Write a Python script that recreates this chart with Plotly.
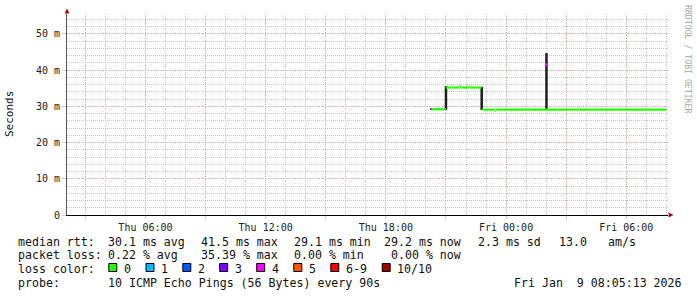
import plotly.graph_objects as go

# ---------------- data ----------------
x_start = "2026-01-08 02:05"
x_end = "2026-01-09 08:05"

# median RTT (ms), step line
med_time = ["2026-01-08 20:16", "2026-01-08 21:00", "2026-01-08 21:17", "2026-01-08 21:20",
            "2026-01-08 21:40", "2026-01-08 21:46", "2026-01-08 22:08", "2026-01-08 22:11",
            "2026-01-08 22:47", "2026-01-08 23:26", "2026-01-08 23:29", "2026-01-09 03:38",
            "2026-01-09 03:41", "2026-01-09 08:01"]
med_val = [29.2, 35.2, 35.5, 35.2, 35.5, 35.2, 35.5, 35.2, 29.1, 28.8, 29.1, 29.4, 29.1, 29.2]

# smoke (min/max spread) columns
smoke_time = ["2026-01-08 20:16", "2026-01-08 21:00", "2026-01-08 22:47", "2026-01-09 02:01"]
smoke_lo = [29.0, 29.0, 29.0, 29.2]
smoke_hi = [29.5, 35.6, 35.4, 44.7]

# sample with packet loss
loss_time = ["2026-01-09 02:01"]
loss_val = [41.5]

y_ticks = [0, 10, 20, 30, 40, 50]
y_ticktext = ["0", "10 m", "20 m", "30 m", "40 m", "50 m"]

x_ticks = ["2026-01-08 03:00", "2026-01-08 06:00", "2026-01-08 09:00", "2026-01-08 12:00",
           "2026-01-08 15:00", "2026-01-08 18:00", "2026-01-08 21:00", "2026-01-09 00:00",
           "2026-01-09 03:00", "2026-01-09 06:00"]
x_ticktext = ["", "Thu 06:00", "", "Thu 12:00", "", "Thu 18:00", "", "Fri 00:00", "", "Fri 06:00"]

loss_labels = ["0", "1", "2", "3", "4", "5", "6-9", "10/10"]
loss_colors = ["#26ff00", "#00b8ff", "#0059ff", "#7e00ff", "#ff00ff", "#ff5500", "#ff0000", "#a10000"]

rtt_stats = ["30.1 ms avg", "41.5 ms max", "29.1 ms min", "29.2 ms now", "2.3 ms sd", "13.0", "am/s"]
loss_stats = ["0.22 % avg", "35.39 % max", "0.00 % min", "0.00 % now"]
probe_text = "10 ICMP Echo Pings (56 Bytes) every 90s"
stamp_text = "Fri Jan\u00a0\u00a09 08:05:13 2026"

# ---------------- layout helpers ----------------
L, R, T, B = 67, 668, 14, 215
W, H = 697, 297


def px(x):
    return (x - L) / (R - L)


def py(y):
    return (B - y) / (B - T)


MONO = "DejaVu Sans Mono"

fig = go.Figure()

# smoke
sx, sy = [], []
for t, lo, hi in zip(smoke_time, smoke_lo, smoke_hi):
    sx += [t, t, None]
    sy += [lo, hi, None]
fig.add_trace(go.Scatter(x=sx, y=sy, mode="lines", line=dict(color="#1c1c1c", width=2.5),
                         hoverinfo="skip"))

# median line: horizontal pieces only (rrdtool-style, verticals come from the smoke)
mx, my = [], []
for i in range(len(med_time) - 1):
    mx += [med_time[i], med_time[i + 1], None]
    my += [med_val[i], med_val[i], None]
fig.add_trace(go.Scatter(x=mx, y=my, mode="lines",
                         line=dict(color=loss_colors[0], width=2.2), hoverinfo="skip"))

# loss sample
fig.add_trace(go.Scatter(x=loss_time, y=loss_val, mode="markers",
                         marker=dict(color=loss_colors[4], size=3, symbol="square", line=dict(width=0)),
                         hoverinfo="skip"))

red_grid = "rgba(230,110,110,0.45)"
gray_grid = "#c8c8c8"

fig.update_layout(
    width=W, height=H,
    margin=dict(l=L, r=W - R, t=T, b=H - B, pad=0),
    paper_bgcolor="white", plot_bgcolor="white",
    showlegend=False,
    font=dict(family=MONO, size=10, color="#222"),
    xaxis=dict(
        type="date", range=[x_start, x_end],
        tickmode="array", tickvals=x_ticks, ticktext=x_ticktext,
        showgrid=True, gridcolor=red_grid, gridwidth=1, griddash="1px,2px",
        minor=dict(dtick=3600000, showgrid=True, gridcolor=gray_grid, griddash="1px,1px", gridwidth=1),
        showline=True, linecolor="black", linewidth=1,
        ticks="outside", ticklen=3, tickcolor=red_grid,
        tickfont=dict(family=MONO, size=10, color="#222"),
        zeroline=False, fixedrange=True,
    ),
    yaxis=dict(
        range=[0, 55.5],
        tickmode="array", tickvals=y_ticks, ticktext=y_ticktext,
        showgrid=True, gridcolor=red_grid, gridwidth=1, griddash="1px,2px",
        minor=dict(dtick=2, tick0=0, showgrid=True, gridcolor=gray_grid, griddash="1px,1px", gridwidth=1),
        showline=True, linecolor="#555", linewidth=1,
        ticks="outside", ticklen=4, tickcolor=red_grid,
        tickfont=dict(family=MONO, size=10, color="#222"),
        zeroline=False, fixedrange=True,
    ),
)

# axis arrows
arrow_col = "#a01010"
fig.add_shape(type="path", xref="paper", yref="paper",
              path=f"M {px(64.5)} {py(13.5)} L {px(69.5)} {py(13.5)} L {px(67)} {py(8.5)} Z",
              fillcolor=arrow_col, line=dict(color=arrow_col, width=0))
fig.add_shape(type="path", xref="paper", yref="paper",
              path=f"M {px(668.5)} {py(212.5)} L {px(668.5)} {py(217.5)} L {px(673.5)} {py(215)} Z",
              fillcolor=arrow_col, line=dict(color=arrow_col, width=0))

ann = []


def text(s, x, y, size=11.6, color="#111", angle=0, xanchor="left"):
    ann.append(dict(text=s, x=px(x), y=py(y), xref="paper", yref="paper", showarrow=False,
                    xanchor=xanchor, yanchor="middle", borderpad=0, textangle=angle,
                    font=dict(family=MONO, size=size, color=color)))


# y axis title and watermark
text("Seconds", 10, 114, size=11, angle=-90, xanchor="center")
text("RRDTOOL / TOBI OETIKER", 688, 59, size=8.2, color="#aaaaaa", angle=90, xanchor="center")

# legend lines
y1, y2, y3, y4 = 241.5, 255.2, 269, 283
text("median rtt:", 16.7, y1)
for s, x in zip(rtt_stats, [107.3, 200, 293.3, 382.7, 477.3, 558.3, 606.7]):
    text(s, x, y1)
text("packet loss:", 16.7, y2)
for s, x in zip(loss_stats, [107.3, 200, 293.3, 390]):
    text(s, x, y2)
text("loss color:", 16.7, y3)
sw_x = [108.3, 145.5, 182.3, 219.2, 256.2, 293.3, 330.3, 381.7]
for lab, col, x in zip(loss_labels, loss_colors, sw_x):
    fig.add_shape(type="rect", xref="paper", yref="paper",
                  x0=px(x + 0.5), x1=px(x + 8.5), y0=py(271.5), y1=py(263.5),
                  fillcolor=col, line=dict(color="black", width=1))
    text(lab, x + 14.5, y3)
text("probe:", 16.7, y4)
text(probe_text, 107.3, y4)
text(stamp_text, 513.3, y4)

fig.update_layout(annotations=ann)

fig.write_html("out.html")
